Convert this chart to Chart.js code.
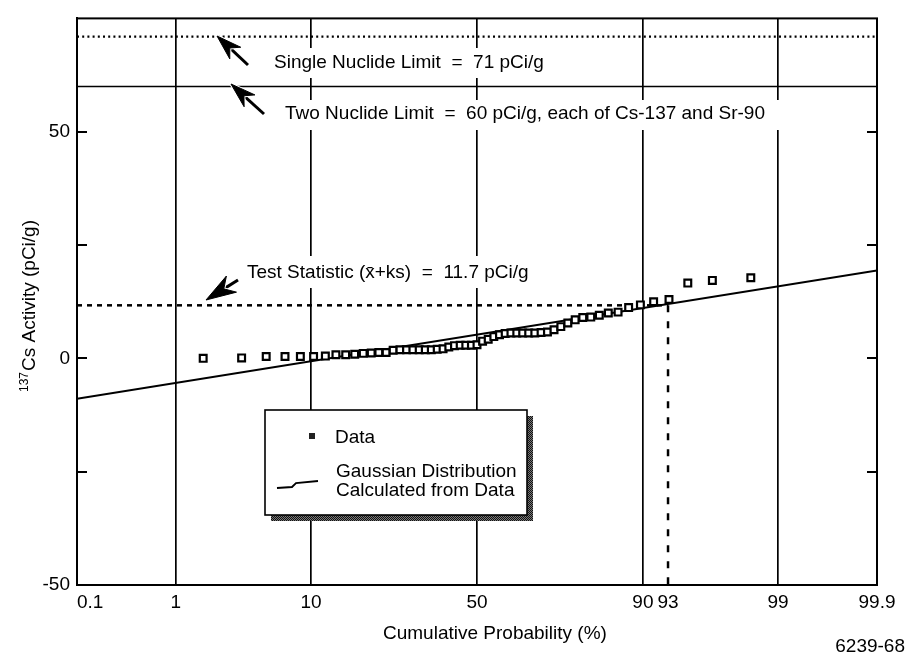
<!DOCTYPE html>
<html><head><meta charset="utf-8">
<script src="https://cdn.jsdelivr.net/npm/chart.js@4.4.1/dist/chart.umd.min.js"></script>
<style>html,body{margin:0;padding:0;background:#fff}</style>
</head><body>
<canvas id="c" width="907" height="654"></canvas>
<script>
// ---------- data ----------
const tickProbs  = [0.1, 1, 10, 50, 90, 93, 99, 99.9];
const tickLabels = ['     0.1', '1', '10', '50', '90', '93', '99', '99.9'];
const dataProb = [1.72, 3.45, 5.17, 6.90, 8.62, 10.34, 12.07, 13.79, 15.52, 17.24,
                  18.97, 20.69, 22.41, 24.14, 25.86, 27.59, 29.31, 31.03, 32.76, 34.48,
                  36.21, 37.93, 39.66, 41.38, 43.10, 44.83, 46.55, 48.28, 50.00, 51.72,
                  53.45, 55.17, 56.90, 58.62, 60.34, 62.07, 63.79, 65.52, 67.24, 68.97,
                  70.69, 72.41, 74.14, 75.86, 77.59, 79.31, 81.03, 82.76, 84.48, 86.21,
                  87.93, 89.66, 91.38, 93.10, 94.83, 96.55, 98.28];
const dataVal  = [0.0, 0.1, 0.4, 0.4, 0.4, 0.4, 0.5, 0.8, 0.8, 0.9,
                  1.1, 1.2, 1.3, 1.3, 1.8, 1.9, 1.9, 1.9, 1.9, 1.9,
                  1.9, 2.0, 2.1, 2.5, 2.8, 2.9, 2.9, 2.9, 3.0, 3.8,
                  4.2, 4.8, 5.2, 5.5, 5.6, 5.6, 5.6, 5.6, 5.6, 5.7,
                  5.8, 6.3, 7.0, 7.8, 8.5, 9.0, 9.1, 9.5, 10.0, 10.2,
                  11.2, 11.8, 12.5, 13.0, 16.6, 17.2, 17.8];
const gaussProb = [0.1, 99.9];
const gaussVal  = [-8.9, 19.4];
const singleLimit = 71;
const twoLimit = 60;
const testStat = 11.7;
const testProb = 93;
const yMin = -50, yMax = 75;
const rightTickVals = [50, 25, 0, -25];

// ---------- normal probability transform ----------
function probit(p){
  const a=[-3.969683028665376e+01,2.209460984245205e+02,-2.759285104469687e+02,1.383577518672690e+02,-3.066479806614716e+01,2.506628277459239e+00];
  const b=[-5.447609879822406e+01,1.615858368580409e+02,-1.556989798598866e+02,6.680131188771972e+01,-1.328068155288572e+01];
  const c=[-7.784894002430293e-03,-3.223964580411365e-01,-2.400758277161838e+00,-2.549671348193806e+00,4.374664141464968e+00,2.938163982698783e+00];
  const d=[7.784695709041462e-03,3.224671290700398e-01,2.445134137142996e+00,3.754408661907416e+00];
  const pl=0.02425, ph=1-pl; let q,r;
  if(p<pl){q=Math.sqrt(-2*Math.log(p));return (((((c[0]*q+c[1])*q+c[2])*q+c[3])*q+c[4])*q+c[5])/((((d[0]*q+d[1])*q+d[2])*q+d[3])*q+1);}
  if(p<=ph){q=p-0.5;r=q*q;return (((((a[0]*r+a[1])*r+a[2])*r+a[3])*r+a[4])*r+a[5])*q/(((((b[0]*r+b[1])*r+b[2])*r+b[3])*r+b[4])*r+1);}
  q=Math.sqrt(-2*Math.log(1-p));return -(((((c[0]*q+c[1])*q+c[2])*q+c[3])*q+c[4])*q+c[5])/((((d[0]*q+d[1])*q+d[2])*q+d[3])*q+1);
}
const Z = p => probit(p / 100);

const FONT = "'Liberation Sans', Arial, Helvetica, sans-serif";
Chart.defaults.font.family = FONT;
Chart.defaults.font.size = 19;
Chart.defaults.color = '#000';

function arrow(ctx, tx, ty, sx, sy, hl, hw) {
  const ang = Math.atan2(ty - sy, tx - sx);
  const ux = Math.cos(ang), uy = Math.sin(ang);
  const px = -uy, py = ux;
  const bx = tx - ux*hl, by = ty - uy*hl;
  const nx = tx - ux*hl*0.7, ny = ty - uy*hl*0.7;
  ctx.beginPath(); ctx.moveTo(sx, sy); ctx.lineTo(nx, ny); ctx.lineWidth = 3; ctx.stroke();
  ctx.beginPath(); ctx.moveTo(tx, ty);
  ctx.lineTo(bx + px*hw/2, by + py*hw/2); ctx.lineTo(nx, ny);
  ctx.lineTo(bx - px*hw/2, by - py*hw/2); ctx.closePath();
  ctx.strokeStyle = '#fff'; ctx.lineWidth = 3; ctx.stroke();
  ctx.fill();
  ctx.strokeStyle = '#000'; ctx.lineWidth = 1; ctx.stroke();
}

function textBox(ctx, txt, x, yc, box) {
  ctx.fillStyle = '#fff';
  ctx.fillRect(box[0], box[1], box[2]-box[0], box[3]-box[1]);
  ctx.fillStyle = '#000';
  ctx.fillText(txt, x, yc);
}

const annot = {
  id: 'annot',
  afterDatasetsDraw(chart) {
    const {ctx, chartArea: a, scales: {y}} = chart;
    ctx.save();
    ctx.strokeStyle = '#000'; ctx.fillStyle = '#000';
    // inner y ticks
    ctx.lineWidth = 2;
    y.ticks.forEach(t => {
      if (t.value <= yMin || t.value >= yMax) return;
      const py = Math.round(y.getPixelForValue(t.value));
      ctx.beginPath(); ctx.moveTo(a.left, py); ctx.lineTo(a.left + 10, py); ctx.stroke();
      if (rightTickVals.includes(t.value)) {
        ctx.beginPath(); ctx.moveTo(a.right - 10, py); ctx.lineTo(a.right, py); ctx.stroke();
      }
    });
    // frame
    ctx.lineWidth = 2;
    ctx.strokeRect(a.left, a.top, a.right - a.left, a.bottom - a.top);

    // annotation texts
    ctx.font = '19px ' + FONT; ctx.textBaseline = 'middle'; ctx.textAlign = 'left';
    textBox(ctx, 'Single Nuclide Limit  =  71 pCi/g', 274, 63, [268, 48, 556, 78]);
    textBox(ctx, 'Two Nuclide Limit  =  60 pCi/g, each of Cs-137 and Sr-90', 285, 114, [279, 100, 786, 130]);
    textBox(ctx, 'Test Statistic (x\u0304+ks)  =  11.7 pCi/g', 247, 273, [241, 256, 541, 288]);

    // arrows
    arrow(ctx, 217, 36, 248, 65, 25, 16);
    arrow(ctx, 231, 84, 264, 114, 25, 16);
    arrow(ctx, 206, 300, 238, 280, 30, 19);

    // legend box
    const pc = document.createElement('canvas'); pc.width = 2; pc.height = 2;
    const pctx = pc.getContext('2d');
    pctx.fillStyle = '#777'; pctx.fillRect(0,0,2,2);
    pctx.fillStyle = '#111'; pctx.fillRect(0,0,1,1); pctx.fillRect(1,1,1,1);
    ctx.fillStyle = ctx.createPattern(pc, 'repeat');
    ctx.fillRect(271, 416, 262, 105);
    ctx.fillStyle = '#fff'; ctx.fillRect(265, 410, 262, 105);
    ctx.lineWidth = 1.6; ctx.strokeRect(265, 410, 262, 105);
    ctx.fillStyle = '#222'; ctx.fillRect(309, 433, 6, 6);
    ctx.fillStyle = '#000';
    ctx.fillText('Data', 335, 438);
    ctx.fillText('Gaussian Distribution', 336, 472);
    ctx.fillText('Calculated from Data', 336, 491);
    ctx.lineWidth = 1.8;
    ctx.beginPath(); ctx.moveTo(277, 488); ctx.lineTo(292, 487); ctx.lineTo(296, 483); ctx.lineTo(318, 481); ctx.stroke();

    // axis titles
    ctx.fillText('Cumulative Probability (%)', 383, 634);
    ctx.textAlign = 'right';
    ctx.fillText('6239-68', 905, 647);
    // y title with superscript
    ctx.textAlign = 'left'; ctx.textBaseline = 'alphabetic';
    ctx.font = '12px ' + FONT; const wSup = ctx.measureText('137').width;
    ctx.font = '19px ' + FONT; const wMain = ctx.measureText('Cs Activity (pCi/g)').width;
    const tot = wSup + 1 + wMain;
    ctx.translate(35, 306 + tot/2); ctx.rotate(-Math.PI/2);
    ctx.font = '12px ' + FONT; ctx.fillText('137', 0, -7);
    ctx.font = '19px ' + FONT; ctx.fillText('Cs Activity (pCi/g)', wSup + 1, 0);
    ctx.restore();
  }
};

const line2 = (x1, y1, x2, y2) => [{x: x1, y: y1}, {x: x2, y: y2}];
const xMin = Z(0.1), xMax = Z(99.9), z93 = Z(testProb);

new Chart(document.getElementById('c'), {
  type: 'scatter',
  data: {
    datasets: [
      { label: 'Data', data: dataProb.map((p, i) => ({x: Z(p), y: dataVal[i]})),
        pointStyle: 'rect', pointRadius: 4.8, pointHoverRadius: 4.8, borderWidth: 2.2,
        borderColor: '#000', backgroundColor: '#fff', showLine: false },
      { label: 'Gaussian Distribution Calculated from Data',
        data: gaussProb.map((p, i) => ({x: Z(p), y: gaussVal[i]})),
        showLine: true, borderColor: '#000', borderWidth: 1.9, pointRadius: 0 },
      { label: 'Single Nuclide Limit', data: line2(xMin, singleLimit, xMax, singleLimit),
        showLine: true, borderColor: '#000', borderWidth: 2.2, borderDash: [2, 3.2], pointRadius: 0 },
      { label: 'Two Nuclide Limit', data: line2(xMin, twoLimit, xMax, twoLimit),
        showLine: true, borderColor: '#000', borderWidth: 1.5, pointRadius: 0 },
      { label: 'Test Statistic', data: line2(xMin, testStat, z93, testStat),
        showLine: true, borderColor: '#000', borderWidth: 2.5, borderDash: [5, 5], pointRadius: 0 },
      { label: 'Test Statistic probability', data: line2(z93, testStat, z93, yMin),
        showLine: true, borderColor: '#000', borderWidth: 2.5, borderDash: [7, 9], pointRadius: 0 }
    ]
  },
  options: {
    responsive: false, animation: false, devicePixelRatio: 1,
    layout: { padding: { top: 13, right: 30, left: 0, bottom: 0 } },
    plugins: { legend: { display: false }, tooltip: { enabled: false } },
    scales: {
      x: {
        type: 'linear', min: xMin, max: xMax,
        afterBuildTicks: s => { s.ticks = tickProbs.map(p => ({ value: Z(p) })); },
        afterFit: s => { s.height = 69; },
        ticks: { autoSkip: false, maxRotation: 0, padding: 6,
                 callback: (v, i) => tickLabels[i] },
        grid: { drawTicks: false, lineWidth: 1.7,
                color: c => (c.tick && Math.abs(c.tick.value - z93) < 1e-9) ? 'rgba(0,0,0,0)' : '#000' },
        border: { display: true, color: '#000', width: 2 }
      },
      y: {
        type: 'linear', min: yMin, max: yMax,
        afterFit: s => { s.width = 77; },
        ticks: { stepSize: 25, padding: 7, callback: v => (v % 50 === 0 ? String(v) : '') },
        grid: { display: false, drawTicks: false },
        border: { display: true, color: '#000', width: 2 }
      }
    }
  },
  plugins: [annot]
});
</script>
</body></html>
